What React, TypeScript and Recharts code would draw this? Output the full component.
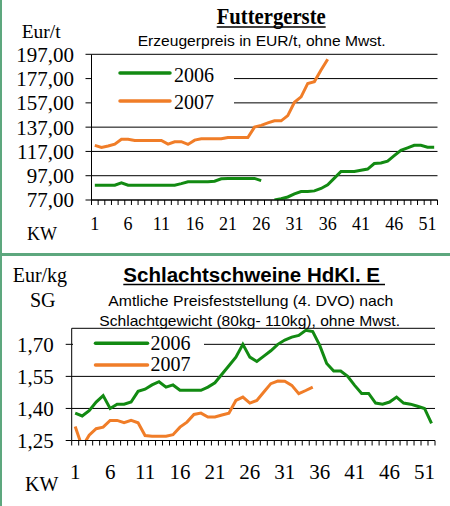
import React from 'react';
import { LineChart, Line, XAxis, YAxis, CartesianGrid, Legend } from 'recharts';

// Kalenderwochen (KW)
const weeks = [
  1, 2, 3, 4, 5, 6, 7, 8, 9, 10, 11, 12, 13, 14, 15, 16, 17, 18, 19, 20, 21, 22, 23, 24, 25, 26,
  27, 28, 29, 30, 31, 32, 33, 34, 35, 36, 37, 38, 39, 40, 41, 42, 43, 44, 45, 46, 47, 48, 49, 50, 51, 52,
];
const weekLabels = [1, 6, 11, 16, 21, 26, 31, 36, 41, 46, 51];

// Futtergerste, Eur/t
const gerste2006 = [
  89.2, 89.2, 89.2, 89.2, 91.2, 89.2, 89.2, 89.2, 89.2, 89.2, 89.2, 89.2, 89.2, 90.5, 92, 92, 92, 92, 92.5, 94.5,
  94.8, 94.8, 94.8, 94.8, 94.8, 93, null, 77, 78, 79.5, 82, 84, 84, 84.5, 86.5, 89.5, 95, 100.5, 100.5, 100.5,
  101.5, 102.5, 107, 107.5, 109, 113.5, 118, 120, 122, 122, 120.5, 120.5,
];
const gerste2007 = [
  122, 120.3, 121.5, 123, 127, 127, 126, 126, 126, 126, 126, 123, 125, 125, 122.8, 126.3, 127.4, 127.4, 127.4, 127.4,
  128.5, 128.5, 128.5, 128.5, 137, 138.5, 140.5, 142.2, 142.2, 146.5, 157.5, 162, 173, 174.5, 184, 193,
];
const gersteTicks = [77, 97, 117, 137, 157, 177, 197];

// Schlachtschweine HdKl. E, Eur/kg SG
const schwein2006 = [
  1.378, 1.365, 1.39, 1.43, 1.46, 1.4, 1.42, 1.42, 1.43, 1.48, 1.49, 1.51, 1.525, 1.5, 1.51, 1.485, 1.485, 1.485,
  1.485, 1.5, 1.52, 1.56, 1.6, 1.64, 1.7, 1.64, 1.62, 1.645, 1.67, 1.7, 1.72, 1.734, 1.742, 1.766, 1.76, 1.695,
  1.61, 1.575, 1.575, 1.55, 1.508, 1.47, 1.47, 1.425, 1.42, 1.43, 1.453, 1.425, 1.42, 1.41, 1.4, 1.33,
];
const schwein2007 = [
  1.315, 1.22, 1.275, 1.305, 1.3125, 1.344, 1.344, 1.333, 1.344, 1.333, 1.273, 1.27, 1.27, 1.27, 1.277, 1.3125,
  1.336, 1.372, 1.378, 1.36, 1.36, 1.369, 1.378, 1.4375, 1.453, 1.425, 1.4375, 1.477, 1.516, 1.528, 1.527, 1.508,
  1.469, 1.484, 1.5,
];
const schweinTicks = [1.25, 1.4, 1.55, 1.7];

const GREEN = '#128A12';
const ORANGE = '#F07D28';
const BORDER = '#5DA77E';
const SERIF = '"Liberation Serif", "Times New Roman", serif';
const SANS = '"Liberation Sans", Arial, sans-serif';

const gersteData = weeks.map((w, i) => ({
  week: w,
  y2006: gerste2006[i] ?? null,
  y2007: gerste2007[i] ?? null,
}));
const schweinData = weeks.map((w, i) => ({
  week: w,
  y2006: schwein2006[i] ?? null,
  y2007: schwein2007[i] ?? null,
}));

const boundaryTicks = [...weeks.map((w) => w - 0.5), weeks[weeks.length - 1] + 0.5];
const xTicks = [...boundaryTicks, ...weekLabels].sort((a, b) => a - b);

const comma = (v: number) => v.toFixed(2).replace('.', ',');

const makeWeekTick = (labelOffset: number, fontSize: number) => (props: any) => {
  const { x, y, payload } = props;
  const v = payload.value;
  if (weekLabels.includes(v)) {
    return (
      <text x={x} y={y + labelOffset} textAnchor="middle" fontFamily={SERIF} fontSize={fontSize} fill="#000">
        {v}
      </text>
    );
  }
  if (!Number.isInteger(v)) {
    return <line x1={x} x2={x} y1={y} y2={y + 5} stroke="#000" strokeWidth={1} />;
  }
  return <g />;
};

const makeLegend = (w: number, h: number, lineX1: number, lineX2: number, textX: number, rows: number[], baselines: number[]) =>
  (props: any) => {
    const payload = props.payload || [];
    return (
      <svg width={w} height={h} style={{ display: 'block' }}>
        <rect x={0} y={0} width={w} height={h} fill="#fff" />
        {payload.map((entry: any, i: number) => (
          <g key={entry.value}>
            <line x1={lineX1} x2={lineX2} y1={rows[i]} y2={rows[i]} stroke={entry.color} strokeWidth={3.5} strokeLinecap="round" />
            <text x={textX} y={baselines[i]} fontFamily={SERIF} fontSize={20} fill="#000">
              {entry.value}
            </text>
          </g>
        ))}
      </svg>
    );
  };

const TopTick = makeWeekTick(30, 18);
const BottomTick = makeWeekTick(38.5, 21);
const TopLegend = makeLegend(142, 68, 28, 78, 82, [17, 45], [25.5, 52.5]);
const BottomLegend = makeLegend(131, 44, 22.5, 74.5, 77.5, [13.3, 35], [20, 40.7]);

const yTick = { fill: '#000', fontSize: 21, fontFamily: SERIF };

export default function App() {
  return (
    <div style={{ position: 'absolute', left: 0, top: 0, width: 450, height: 506, background: '#fff', overflow: 'hidden' }}>
      <div style={{ position: 'absolute', left: 0, top: 0 }}>
        <LineChart width={450} height={250} data={gersteData} margin={{ top: 54.3, right: 12.5, left: 0, bottom: 20 }}>
          <CartesianGrid vertical={false} stroke="#000" strokeWidth={1} />
          <XAxis
            type="number"
            dataKey="week"
            domain={[0.5, 52.5]}
            ticks={xTicks}
            interval={0}
            tick={TopTick}
            tickLine={false}
            tickSize={0}
            tickMargin={0}
            stroke="#000"
            height={30}
            allowDecimals
          />
          <YAxis
            type="number"
            domain={[77, 197]}
            ticks={gersteTicks}
            interval={0}
            allowDataOverflow
            width={91.5}
            tickSize={6}
            tickMargin={11.5}
            stroke="#000"
            tick={yTick}
            tickFormatter={comma}
          />
          <Legend
            layout="vertical"
            align="center"
            verticalAlign="middle"
            wrapperStyle={{ left: 92, top: 56, width: 142, height: 68 }}
            content={TopLegend}
          />
          <Line name="2006" dataKey="y2006" stroke={GREEN} strokeWidth={3} dot={false} type="linear" isAnimationActive={false} />
          <Line name="2007" dataKey="y2007" stroke={ORANGE} strokeWidth={3} dot={false} type="linear" isAnimationActive={false} />
        </LineChart>
      </div>

      <div style={{ position: 'absolute', left: 0, top: 256 }}>
        <LineChart width={450} height={250} data={schweinData} margin={{ top: 72.3, right: 15, left: 0, bottom: 25.5 }}>
          <CartesianGrid vertical={false} stroke="#000" strokeWidth={1} />
          <XAxis
            type="number"
            dataKey="week"
            domain={[0.5, 52.5]}
            ticks={xTicks}
            interval={0}
            tick={BottomTick}
            tickLine={false}
            tickSize={0}
            tickMargin={0}
            stroke="#000"
            height={40}
            allowDecimals
          />
          <YAxis
            type="number"
            domain={[1.25, 1.775]}
            ticks={schweinTicks}
            interval={0}
            allowDataOverflow
            width={71.7}
            tickSize={6}
            tickMargin={12}
            stroke="#000"
            tick={yTick}
            tickFormatter={comma}
          />
          <Legend
            layout="vertical"
            align="center"
            verticalAlign="middle"
            wrapperStyle={{ left: 72.5, top: 74, width: 131, height: 44 }}
            content={BottomLegend}
          />
          <Line name="2006" dataKey="y2006" stroke={GREEN} strokeWidth={3} dot={false} type="linear" isAnimationActive={false} />
          <Line name="2007" dataKey="y2007" stroke={ORANGE} strokeWidth={3} dot={false} type="linear" isAnimationActive={false} />
        </LineChart>
      </div>

      <svg width={450} height={506} style={{ position: 'absolute', left: 0, top: 0, pointerEvents: 'none' }}>
        <text x={216.7} y={24.3} fontFamily={SERIF} fontWeight="bold" fontSize={23} textLength={109} lengthAdjust="spacingAndGlyphs" fill="#000">
          Futtergerste
        </text>
        <line x1={216.7} x2={325.7} y1={27} y2={27} stroke="#000" strokeWidth={1.5} />
        <text x={137.7} y={46} fontFamily={SANS} fontSize={14} textLength={248} lengthAdjust="spacingAndGlyphs" fill="#000">
          Erzeugerpreis in EUR/t, ohne Mwst.
        </text>
        <text x={21.7} y={38} fontFamily={SERIF} fontSize={19.5} fill="#000">Eur/t</text>
        <text x={27} y={240} fontFamily={SERIF} fontSize={18} fill="#000">KW</text>

        <text x={123.3} y={281.5} fontFamily={SANS} fontWeight="bold" fontSize={20} textLength={256.7} lengthAdjust="spacingAndGlyphs" fill="#000">
          Schlachtschweine HdKl. E
        </text>
        <line x1={123.3} x2={385} y1={284.5} y2={284.5} stroke="#000" strokeWidth={1.5} />
        <text x={108.3} y={306} fontFamily={SANS} fontSize={14.5} textLength={285} lengthAdjust="spacingAndGlyphs" fill="#000">
          Amtliche Preisfeststellung (4. DVO) nach
        </text>
        <text x={99.3} y={326} fontFamily={SANS} fontSize={14.5} textLength={300.7} lengthAdjust="spacingAndGlyphs" fill="#000">
          Schlachtgewicht (80kg- 110kg), ohne Mwst.
        </text>
        <text x={12.7} y={282} fontFamily={SERIF} fontSize={20} fill="#000">Eur/kg</text>
        <text x={30} y={307} fontFamily={SERIF} fontSize={20} fill="#000">SG</text>
        <text x={25} y={491} fontFamily={SERIF} fontSize={20} fill="#000">KW</text>
      </svg>

      <div style={{ position: 'absolute', left: 0, top: 0, width: 1.5, height: 506, background: BORDER }} />
      <div style={{ position: 'absolute', left: 0, top: 252.5, width: 450, height: 3.5, background: BORDER }} />
    </div>
  );
}
